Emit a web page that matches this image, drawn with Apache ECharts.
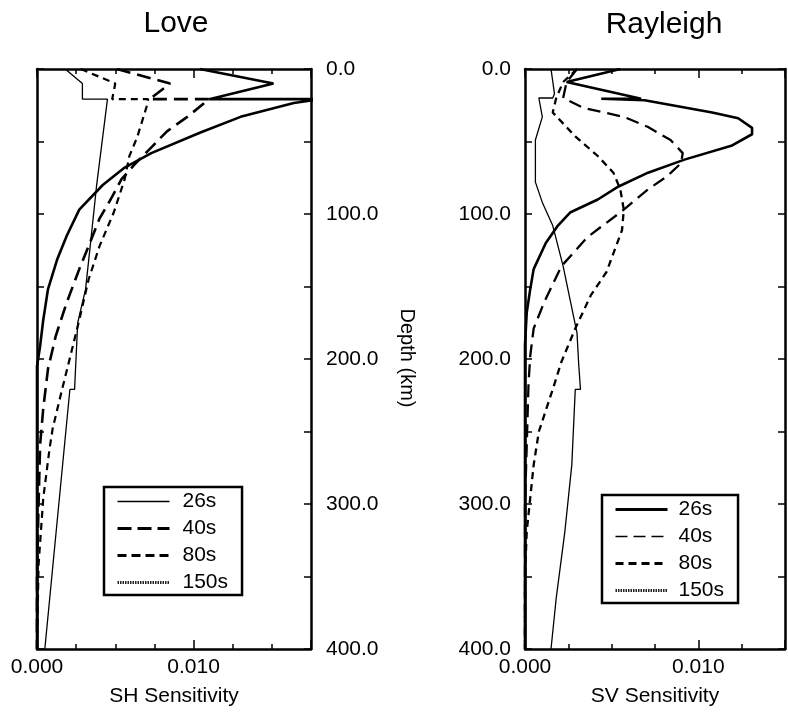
<!DOCTYPE html>
<html><head><meta charset="utf-8">
<script src="https://cdn.jsdelivr.net/npm/echarts@6/dist/echarts.min.js"></script>
<style>html,body{margin:0;padding:0;background:#fff}#c{width:788px;height:712px}</style>
</head><body><div id="c"></div>
<script>
// ---------- data (depth in km, sensitivity values) ----------
const periods = ['26s', '40s', '80s', '150s'];
const xTickLabels = ['0.000', '0.010'];
const titles = ['Love', 'Rayleigh'];
const xNames = ['SH Sensitivity', 'SV Sensitivity'];
const yName = 'Depth (km)';

// Love (SH)
const love26Depth = [0, 10, 20.8, 20.8, 23.5, 33, 44, 58, 68, 80, 97, 115, 131, 152, 173, 191, 205, 400];
const love26 = [0.0104, 0.0151, 0.0110, 0.0181, 0.0164, 0.0130, 0.0104, 0.0073, 0.0056, 0.0042, 0.0027, 0.0019, 0.0013, 0.0007, 0.0004, 0.0002, 0.0000, 0.0000];
const love40Depth = [0, 10, 20.8, 20.8, 33, 43, 53, 65, 76, 90, 103, 122, 138, 161, 184, 207, 234, 259, 300, 350, 400];
const love40 = [0.0051, 0.0085, 0.0072, 0.0110, 0.0096, 0.0083, 0.0074, 0.0063, 0.0054, 0.0047, 0.0040, 0.0033, 0.0027, 0.0019, 0.0012, 0.0007, 0.0004, 0.0002, 0.0001, 0.0000, 0.0000];
const love80Depth = [0, 10, 20.8, 20.8, 26, 33, 47, 60, 76, 99, 122, 145, 173, 195, 221, 248, 262, 296, 342, 400];
const love80 = [0.0028, 0.0050, 0.0048, 0.0071, 0.0070, 0.0068, 0.0064, 0.0059, 0.0056, 0.0049, 0.0040, 0.0033, 0.0027, 0.0022, 0.0016, 0.0010, 0.0008, 0.0004, 0.0001, 0.0000];
const love150Depth = [0, 10, 20.8, 20.8, 81, 122, 152, 175, 221, 221, 400];
const love150 = [0.0018, 0.0029, 0.0029, 0.0045, 0.0038, 0.0034, 0.0031, 0.0026, 0.0024, 0.0021, 0.0005];

// Rayleigh (SV)
const ray26Depth = [0, 9, 20.5, 20.5, 21.5, 30, 34, 40.6, 45, 53, 62.5, 71.5, 81, 90, 99, 108, 120, 138, 152, 168, 190, 400];
const ray26 = [0.0055, 0.0024, 0.0067, 0.0044, 0.0069, 0.0108, 0.0123, 0.0131, 0.0131, 0.0119, 0.0092, 0.0071, 0.0054, 0.0042, 0.0026, 0.0019, 0.0012, 0.0005, 0.0003, 0.0001, 0.0000, 0.0000];
const ray40Depth = [0, 9, 20, 27, 33, 40, 49, 58, 65, 74, 83, 97, 116, 136, 161, 179, 198, 218, 260, 300, 400];
const ray40 = [0.0030, 0.0024, 0.0022, 0.0034, 0.0057, 0.0071, 0.0084, 0.0091, 0.0090, 0.0082, 0.0071, 0.0057, 0.0036, 0.0021, 0.0011, 0.0005, 0.0003, 0.0002, 0.0001, 0.0000, 0.0000];
const ray80Depth = [0, 9, 20, 30, 46.5, 60, 71.5, 83, 97, 111, 140, 156, 179, 202, 221, 250, 273, 296, 319, 350, 400];
const ray80 = [0.0030, 0.0022, 0.0018, 0.0016, 0.0029, 0.0042, 0.0051, 0.0055, 0.0057, 0.0056, 0.0047, 0.0038, 0.0029, 0.0021, 0.0016, 0.0008, 0.0005, 0.0003, 0.0001, 0.0000, 0.0000];
const ray150Depth = [0, 17, 20, 20, 33, 49, 60, 78, 92, 108, 136, 159, 182, 204, 221, 221, 273, 319, 365, 400];
const ray150 = [0.0015, 0.0017, 0.0016, 0.0008, 0.0010, 0.0006, 0.0006, 0.0006, 0.0010, 0.0016, 0.0022, 0.0026, 0.0030, 0.0031, 0.0032, 0.0029, 0.0027, 0.0023, 0.0018, 0.0015];

// ---------- chart ----------
const FONT = '"Liberation Sans", Arial, Helvetica, sans-serif';
const chart = echarts.init(document.getElementById('c'), null, {renderer: 'canvas'});
const pair = (vals, deps) => deps.map((d, i) => [vals[i], d]);

const grids = [
  {left: 37, top: 69, width: 274, height: 582, max: 0.0175},
  {left: 525, top: 69, width: 270, height: 582, max: 0.015}
];

const AXLINE = {show: true, onZero: false, lineStyle: {color: '#000', width: 2.5}};
const NOLINE = {show: false, onZero: false};
const xAxes = [], yAxes = [];
grids.forEach((g, gi) => {
  xAxes.push({
    gridIndex: gi, type: 'value', position: 'bottom', min: 0, max: g.max, interval: 0.0025,
    axisLine: AXLINE,
    axisTick: {show: true, inside: true, length: 5, lineStyle: {color: '#000', width: 1.5}},
    splitLine: {show: false},
    axisLabel: {
      show: true, margin: 8, color: '#000', fontSize: 21, fontFamily: FONT, showMaxLabel: true,
      formatter: v => Math.abs(v) < 1e-12 ? xTickLabels[0] : (Math.abs(v - 0.01) < 1e-9 ? xTickLabels[1] : '')
    },
    name: xNames[gi], nameLocation: 'middle', nameGap: 37,
    nameTextStyle: {color: '#000', fontSize: 21, fontFamily: FONT}
  });
  xAxes.push({
    gridIndex: gi, type: 'value', position: 'bottom', min: 0, max: g.max, interval: 0.01,
    axisLine: NOLINE, axisTick: {show: true, inside: true, length: 9, lineStyle: {color: '#000', width: 1.5}},
    axisLabel: {show: false}, splitLine: {show: false}
  });
  xAxes.push({
    gridIndex: gi, type: 'value', position: 'top', min: 0, max: g.max, interval: 0.0025,
    axisLine: AXLINE,
    axisTick: {show: true, inside: true, length: 5, lineStyle: {color: '#000', width: 1.5}},
    axisLabel: {show: false}, splitLine: {show: false}
  });
  xAxes.push({
    gridIndex: gi, type: 'value', position: 'top', min: 0, max: g.max, interval: 0.01,
    axisLine: NOLINE, axisTick: {show: true, inside: true, length: 9, lineStyle: {color: '#000', width: 1.5}},
    axisLabel: {show: false}, splitLine: {show: false}
  });
  const labelSide = gi === 0 ? 'right' : 'left';
  const otherSide = gi === 0 ? 'left' : 'right';
  yAxes.push({
    gridIndex: gi, type: 'value', position: labelSide, inverse: true, min: 0, max: 400, interval: 50,
    axisLine: AXLINE,
    axisTick: {show: true, inside: true, length: 7, lineStyle: {color: '#000', width: 1.5}},
    splitLine: {show: false},
    axisLabel: {show: true, margin: gi === 0 ? 15 : 14, color: '#000', fontSize: 21, fontFamily: FONT,
      formatter: v => (v % 100 === 0 ? v.toFixed(1) : '')}
  });
  yAxes.push({
    gridIndex: gi, type: 'value', position: otherSide, inverse: true, min: 0, max: 400, interval: 50,
    axisLine: AXLINE,
    axisTick: {show: true, inside: true, length: 7, lineStyle: {color: '#000', width: 1.5}},
    splitLine: {show: false}, axisLabel: {show: false}
  });
});

function ser(name, gi, vals, deps, ls, extra) {
  return Object.assign({
    name: name, type: 'line', xAxisIndex: gi * 4, yAxisIndex: gi * 2,
    data: pair(vals, deps), symbol: 'none', showSymbol: false, smooth: false,
    itemStyle: {color: '#000'},
    lineStyle: Object.assign({color: '#000'}, ls), animation: false, silent: true
  }, extra || {});
}

const series = [
  ser(periods[0], 0, love26, love26Depth, {width: 2.6, type: 'solid'}, {clip: false}),
  ser(periods[1], 0, love40, love40Depth, {width: 2.6, type: [14, 7]}),
  ser(periods[2], 0, love80, love80Depth, {width: 2.2, type: [7, 5]}),
  ser(periods[3], 0, love150, love150Depth, {width: 1.3, type: 'solid'}),
  ser(periods[0], 1, ray26, ray26Depth, {width: 2.6, type: 'solid'}),
  ser(periods[1], 1, ray40, ray40Depth, {width: 2.3, type: [13, 7]}),
  ser(periods[2], 1, ray80, ray80Depth, {width: 2.3, type: [7, 5]}),
  ser(periods[3], 1, ray150, ray150Depth, {width: 1.3, type: 'solid'})
];

const HIDE = {color: 'rgba(0,0,0,0)', borderColor: 'rgba(0,0,0,0)', borderWidth: 0, opacity: 0};
const legendBase = {
  orient: 'vertical', itemWidth: 52, itemHeight: 14, itemGap: 6,
  borderColor: '#000', borderWidth: 2.5, borderRadius: 0, backgroundColor: '#fff',
  selectedMode: false, inactiveColor: '#000', itemStyle: HIDE,
  textStyle: {fontSize: 21, color: '#000', fontFamily: FONT, padding: [0, 0, 0, 8]}
};
const legends = [
  Object.assign({}, legendBase, {
    left: 104, top: 487, padding: [4, 14, 2, 12],
    data: [
      {name: periods[0], itemStyle: HIDE, lineStyle: {color: '#000', width: 1.4, type: 'solid'}},
      {name: periods[1], itemStyle: HIDE, lineStyle: {color: '#000', width: 3, type: [14, 6]}},
      {name: periods[2], itemStyle: HIDE, lineStyle: {color: '#000', width: 3, type: [9, 5]}},
      {name: periods[3], itemStyle: HIDE, lineStyle: {color: '#222', width: 3, type: [1.5, 1]}}
    ]
  }),
  Object.assign({}, legendBase, {
    left: 602, top: 495, padding: [4, 14, 2, 12], textStyle: Object.assign({}, legendBase.textStyle, {padding: [0, 0, 0, 6]}),
    data: [
      {name: periods[0], itemStyle: HIDE, lineStyle: {color: '#000', width: 3, type: 'solid'}},
      {name: periods[1], itemStyle: HIDE, lineStyle: {color: '#000', width: 1.5, type: [12, 6]}},
      {name: periods[2], itemStyle: HIDE, lineStyle: {color: '#000', width: 3, type: [8, 5]}},
      {name: periods[3], itemStyle: HIDE, lineStyle: {color: '#222', width: 3, type: [1.5, 1]}}
    ]
  })
];

chart.setOption({
  animation: false,
  backgroundColor: '#fff',
  grid: grids.map(g => ({left: g.left, top: g.top, width: g.width, height: g.height, show: false, containLabel: false})),
  xAxis: xAxes,
  yAxis: yAxes,
  legend: legends,
  series: series,
  graphic: [
    {type: 'text', x: 176, y: 24, style: {text: titles[0], font: '30px ' + FONT, fill: '#000', align: 'center', verticalAlign: 'middle'}},
    {type: 'text', x: 664, y: 25, style: {text: titles[1], font: '30px ' + FONT, fill: '#000', align: 'center', verticalAlign: 'middle'}},
    {type: 'text', x: 407, y: 358, rotation: -Math.PI / 2, style: {text: yName, font: '20px ' + FONT, fill: '#000', align: 'center', verticalAlign: 'middle'}}
  ]
});
</script>
</body></html>
